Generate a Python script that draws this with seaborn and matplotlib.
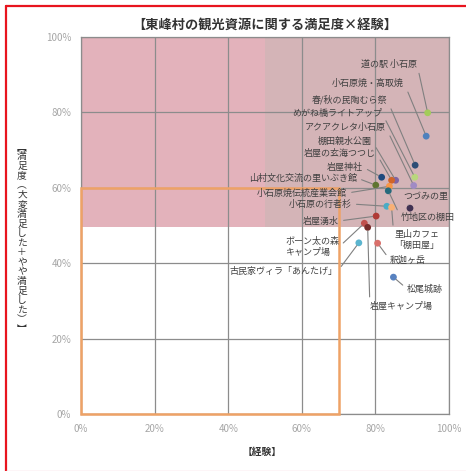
import numpy as np
import pandas as pd
import matplotlib.pyplot as plt
import seaborn as sns
from matplotlib.patches import Rectangle
from matplotlib.lines import Line2D
import matplotlib.ticker as ticker

# data
spots = ["道の駅 小石原", "小石原焼・高取焼", "春/秋の民陶むら祭", "めがね橋ライトアップ",
         "アクアクレタ小石原", "棚田親水公園", "岩屋の玄海つつじ", "岩屋神社",
         "山村文化交流の里いぶき館", "小石原焼伝統産業会館", "竹地区の棚田", "つづみの里",
         "小石原の行者杉", "里山カフェ\n「棚田屋」", "岩屋湧水", "ボーン太の森\nキャンプ場",
         "岩屋キャンプ場", "古民家ヴィラ「あんたげ」", "釈迦ヶ岳", "松尾城跡"]
experience = [94.2, 93.8, 90.8, 90.7, 90.4, 85.5, 84.4, 81.7, 80.1, 83.8,
              83.5, 89.4, 83.1, 84.4, 80.2, 77.0, 77.9, 75.5, 80.6, 84.9]
satisfaction = [79.9, 73.7, 66.0, 62.8, 60.6, 62.0, 62.0, 62.8, 60.7, 60.4,
                59.2, 54.6, 55.1, 54.8, 52.5, 50.6, 49.5, 45.4, 45.3, 36.3]
colors = ["#a3cc5a", "#4f81bd", "#2c4d75", "#b9d77c", "#a08bc4", "#8064a2", "#d0642a", "#1f497d",
          "#5f7530", "#f79646", "#276a7c", "#403152", "#4bacc6", "#f9b074", "#b03a36", "#c0504d",
          "#772c2a", "#5bb5cf", "#d9706b", "#5882c0"]

# label placement: (x, y, ha)
label_pos = [(91.3, 92.8, "right"), (87.8, 87.8, "right"), (83.2, 83.3, "right"), (81.8, 79.8, "right"),
             (82.9, 75.9, "right"), (79.1, 72.4, "right"), (80.2, 69.2, "right"), (76.6, 65.5, "right"),
             (75.0, 62.6, "right"), (72.3, 58.6, "right"), (87.0, 52.0, "left"), (87.5, 57.8, "left"),
             (73.6, 55.7, "right"), (85.1, 46.2, "left"), (70.1, 51.2, "right"), (70.1, 44.3, "right"),
             (78.5, 28.6, "left"), (69.6, 37.7, "right"), (84.0, 40.8, "left"), (88.6, 33.2, "left")]

df = pd.DataFrame({"spot": spots, "exp": experience, "sat": satisfaction})

sns.set_theme(style="white")
plt.rcParams['font.family'] = ['Noto Sans CJK JP', 'DejaVu Sans']

fig = plt.figure(figsize=(4.66, 4.71), dpi=100)
ax = fig.add_axes([81/466, 57/471, 368/466, 377/471])

# background zones
ax.add_patch(Rectangle((0, 49.5), 100, 50.5, facecolor="#e3b2bb", edgecolor="none", zorder=0))
ax.add_patch(Rectangle((50, 49.5), 50, 50.5, facecolor="#d4b4b7", edgecolor="none", zorder=0.1))
ax.add_patch(Rectangle((0, 0), 70, 60, facecolor="none", edgecolor="#eea266", lw=1.8, zorder=3,
                       clip_on=False))

sns.scatterplot(data=df, x="exp", y="sat", hue="spot", palette=colors, s=24, linewidth=0,
                legend=False, ax=ax, zorder=5)

for i, name in enumerate(spots):
    lx, ly, ha = label_pos[i]
    ax.annotate(name, xy=(experience[i], satisfaction[i]), xytext=(lx, ly), ha=ha, va="center",
                multialignment="left", fontsize=6.5, color="#404040", linespacing=1.25, zorder=6,
                arrowprops=dict(arrowstyle="-", color="#808080", lw=0.8, shrinkA=1, shrinkB=2.5,
                                relpos=(1, 0.5) if ha == "right" else (0, 0.5)))

ax.set_xlim(0, 100)
ax.set_ylim(0, 100)
ax.xaxis.set_major_locator(ticker.MultipleLocator(20))
ax.yaxis.set_major_locator(ticker.MultipleLocator(20))
ax.xaxis.set_major_formatter(ticker.FuncFormatter(lambda v, p: f"{v:.0f}%"))
ax.yaxis.set_major_formatter(ticker.FuncFormatter(lambda v, p: f"{v:.0f}%"))
ax.tick_params(axis="both", length=0, labelsize=7, labelcolor="#a6a6a6")
ax.tick_params(axis="x", pad=7)
ax.tick_params(axis="y", pad=7)
ax.grid(True, color="#8c8c8c", lw=0.9)
ax.set_axisbelow(False)
for sp in ax.spines.values():
    sp.set_color("#8c8c8c")
    sp.set_linewidth(0.9)
ax.set_xlabel("")
ax.set_ylabel("")

fig.text(265/466, 1 - 25/471, "【東峰村の観光資源に関する満足度×経験】", ha="center", va="center",
         fontsize=9.5, fontweight="bold", color="#333333")
fig.text(262/466, 1 - 452/471, "【経験】", ha="center", va="center", fontsize=7,
         fontweight="bold", color="#333333")
ylab = "︻満足度︵大変満足した＋やや満足した︶︼"
fig.text(22/466, 1 - 238/471, "\n".join(ylab), ha="center", va="center", fontsize=7,
         color="#333333", linespacing=0.95)

# red frame
fig.add_artist(Line2D([6/466, 6/466], [0, 1 - 6/471], color="#e8141e", lw=1.6))
fig.add_artist(Line2D([6/466, 1], [1 - 6/471, 1 - 6/471], color="#e8141e", lw=1.6))
fig.add_artist(Line2D([6/466, 1], [0.5/471, 0.5/471], color="#f8d0d8", lw=1.0))

fig.savefig("out.png", dpi=100)
